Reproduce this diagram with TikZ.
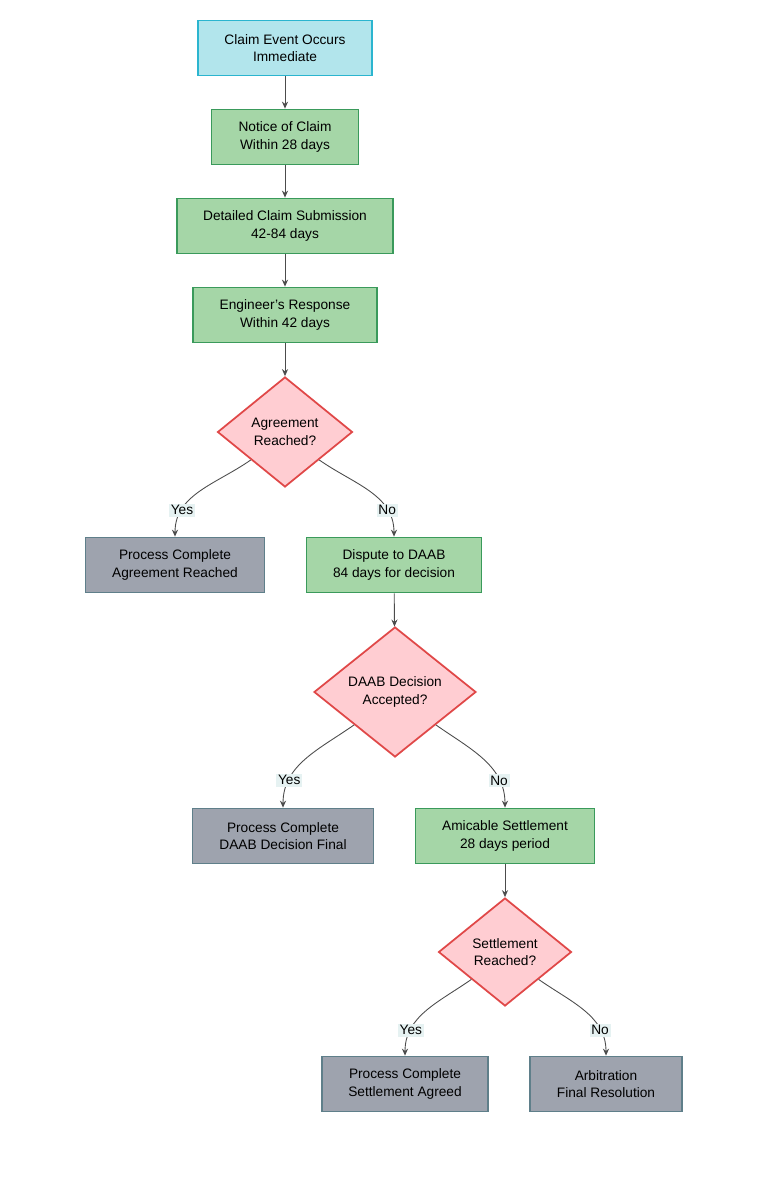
\documentclass[tikz,border=0pt]{standalone}
\usepackage{fontspec}
\setmainfont{Liberation Sans}
\usetikzlibrary{shapes.geometric}
\usetikzlibrary{arrows.meta}
\definecolor{startfill}{HTML}{B2E5EC}
\definecolor{startline}{HTML}{2BB5CF}
\definecolor{stagefill}{HTML}{A5D6A7}
\definecolor{stageline}{HTML}{3A9A5B}
\definecolor{endfill}{HTML}{9EA3AE}
\definecolor{endline}{HTML}{5F7F8A}
\definecolor{askfill}{HTML}{FFCDD2}
\definecolor{askline}{HTML}{E04848}
\definecolor{labfill}{HTML}{E6F2F2}
\tikzstyle{box} = [rectangle, minimum height=1.1cm, align=center, line width=1pt, font=\fontsize{7.8}{10}\selectfont]
\tikzstyle{start} = [box, fill=startfill, draw=startline]
\tikzstyle{stage} = [box, fill=stagefill, draw=stageline]
\tikzstyle{stop} = [box, fill=endfill, draw=endline]
\tikzstyle{ask} = [diamond, aspect=1.2, inner sep=0pt, align=center, fill=askfill, draw=askline, line width=1pt, font=\fontsize{7.8}{10}\selectfont]
\tikzstyle{link} = [draw=black!70, line width=0.5pt, -{Stealth[length=4pt,width=3.5pt]}]
\tikzstyle{lab} = [fill=labfill, inner sep=1pt, font=\fontsize{7.8}{10}\selectfont]

\begin{document}
\begin{tikzpicture}[x=0.02cm, y=-0.02cm]
    \useasboundingbox (0,0) rectangle (768,1182);

    \node(event)[start, minimum width=3.48cm] at (285,48) {Claim Event Occurs\\Immediate};
    \node(notice)[stage, minimum width=2.94cm] at (285,137) {Notice of Claim\\Within 28 days};
    \node(detail)[stage, minimum width=4.32cm] at (285,226) {Detailed Claim Submission\\42-84 days};
    \node(engineer)[stage, minimum width=3.68cm] at (285,315) {Engineer's Response\\Within 42 days};
    \node(agree)[ask, minimum width=2.7cm, minimum height=2.2cm] at (285,432) {Agreement\\Reached?};
    \node(done1)[stop, minimum width=3.58cm] at (175,565) {Process Complete\\Agreement Reached};
    \node(daab)[stage, minimum width=3.5cm] at (394,565) {Dispute to DAAB\\84 days for decision};
    \node(accept)[ask, minimum width=3.24cm, minimum height=2.6cm] at (395,692) {DAAB Decision\\Accepted?};
    \node(done2)[stop, minimum width=3.62cm] at (283,836) {Process Complete\\DAAB Decision Final};
    \node(amicable)[stage, minimum width=3.58cm] at (505,836) {Amicable Settlement\\28 days period};
    \node(settle)[ask, minimum width=2.66cm, minimum height=2.16cm] at (505,952) {Settlement\\Reached?};
    \node(done3)[stop, minimum width=3.32cm] at (405,1084) {Process Complete\\Settlement Agreed};
    \node(arbitr)[stop, minimum width=3.04cm] at (606,1084) {Arbitration\\Final Resolution};

    \draw[link] (event) -- (notice);
    \draw[link] (notice) -- (detail);
    \draw[link] (detail) -- (engineer);
    \draw[link] (engineer) -- (agree);
    \draw[link] (agree.south west) to[out=215,in=90] node[lab, pos=0.75]{Yes} (done1.north);
    \draw[link] (agree.south east) to[out=-35,in=90] node[lab, pos=0.75]{No} (daab.north);
    \draw[link] (daab) -- (accept);
    \draw[link] (accept.south west) to[out=215,in=90] node[lab, pos=0.75]{Yes} (done2.north);
    \draw[link] (accept.south east) to[out=-35,in=90] node[lab, pos=0.75]{No} (amicable.north);
    \draw[link] (amicable) -- (settle);
    \draw[link] (settle.south west) to[out=215,in=90] node[lab, pos=0.75]{Yes} (done3.north);
    \draw[link] (settle.south east) to[out=-35,in=90] node[lab, pos=0.75]{No} (arbitr.north);

\end{tikzpicture}
\end{document}
